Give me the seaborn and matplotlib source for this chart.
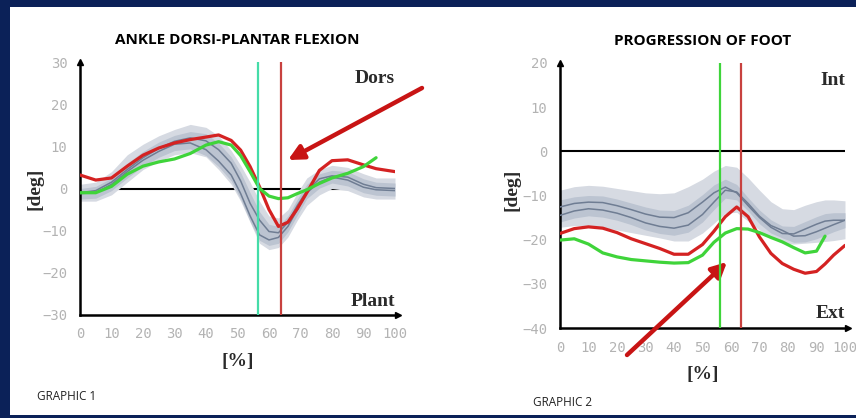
import numpy as np
import seaborn as sns
import matplotlib.pyplot as plt
from matplotlib.patches import Rectangle

# ---- data ----
# graphic 1: ankle dorsi-plantar flexion
ank_x = [0, 5, 10, 15, 20, 25, 30, 35, 40, 44, 48, 51, 54, 57, 60, 63, 66, 69, 72, 76, 80, 85, 90, 94, 100]
ank_red = [3.2, 2.0, 2.5, 5.3, 7.9, 9.6, 10.8, 11.6, 12.2, 12.7, 11.4, 9.1, 5.2, 0.4, -5.0, -9.0, -8.0, -4.8, -1.0, 4.3, 6.6, 6.8, 5.6, 4.7, 4.0]
ank_green = [-1.0, -1.0, 0.5, 3.4, 5.3, 6.3, 7.0, 8.3, 10.3, 11.1, 10.3, 7.8, 4.0, 0.0, -1.8, -2.4, -2.2, -1.2, -0.3, 1.2, 2.5, 3.6, 5.2, 7.3, np.nan]
ank_norm_a = [-1.0, -0.5, 1.5, 4.5, 7.3, 9.5, 11.2, 12.0, 11.3, 9.2, 6.0, 1.8, -3.5, -7.5, -10.2, -10.5, -8.0, -4.0, -0.6, 2.3, 3.0, 2.7, 1.0, 0.2, 0.0]
ank_norm_b = [-1.2, -1.0, 1.0, 4.0, 6.7, 8.8, 10.5, 10.8, 9.2, 6.5, 3.2, -1.2, -6.5, -11.0, -12.2, -11.6, -9.0, -5.0, -1.0, 1.5, 2.7, 2.0, 0.3, -0.3, -0.5]
ank_band_hi = [1.0, 1.5, 4.0, 8.0, 10.5, 12.5, 14.0, 15.2, 14.5, 12.5, 9.0, 5.5, 1.5, -3.0, -6.5, -7.0, -5.0, -1.0, 2.5, 4.5, 5.5, 5.0, 3.5, 2.5, 2.5]
ank_band_lo = [-3.0, -3.0, -1.5, 1.5, 4.5, 6.5, 8.0, 8.5, 7.5, 4.5, 1.0, -3.0, -8.0, -13.0, -14.5, -14.0, -11.5, -7.5, -4.0, -1.5, 0.0, -0.5, -2.0, -2.5, -2.5]
ank_inner_hi = [0.0, 0.5, 2.5, 6.0, 8.8, 11.0, 12.6, 13.5, 13.0, 10.8, 7.5, 3.8, -1.0, -5.5, -8.5, -9.0, -6.5, -2.5, 1.0, 3.5, 4.3, 4.0, 2.3, 1.5, 1.3]
ank_inner_lo = [-2.5, -2.3, -0.5, 2.5, 5.3, 7.4, 9.0, 9.4, 7.8, 5.2, 1.8, -2.5, -7.8, -12.3, -13.5, -13.0, -10.3, -6.3, -2.4, 0.1, 1.3, 0.6, -1.0, -1.6, -1.8]
ank_events = [56.5, 63.8]

# graphic 2: progression of foot
foot_x = [0, 5, 10, 15, 20, 25, 30, 35, 40, 45, 50, 54, 58, 62, 66, 70, 74, 78, 82, 86, 90, 93, 96, 100]
foot_red = [-18.6, -17.5, -17.1, -17.4, -18.4, -19.8, -20.9, -22.0, -23.3, -23.3, -21.1, -18.1, -14.8, -12.6, -14.8, -19.4, -23.1, -25.4, -26.7, -27.6, -27.2, -25.5, -23.5, -21.3]
foot_green = [-20.1, -19.8, -21.0, -23.0, -23.9, -24.5, -24.8, -25.1, -25.3, -25.2, -23.5, -20.6, -18.5, -17.5, -17.6, -18.4, -19.5, -20.5, -21.8, -23.0, -22.6, -19.2, np.nan, np.nan]
foot_norm_a = [-12.6, -11.8, -11.5, -11.6, -12.3, -13.2, -14.2, -14.9, -15.0, -13.9, -11.5, -9.4, -8.1, -9.4, -12.3, -15.0, -17.2, -18.6, -18.7, -17.6, -16.5, -15.8, -15.6, -15.6]
foot_norm_b = [-14.5, -13.5, -13.0, -13.3, -14.0, -15.0, -16.2, -17.0, -17.4, -16.7, -14.3, -11.5, -8.8, -9.2, -11.8, -14.7, -16.8, -17.9, -19.2, -19.1, -18.2, -17.4, -16.6, -15.6]
foot_band_hi = [-8.8, -8.0, -7.7, -7.9, -8.4, -8.9, -9.4, -9.6, -9.4, -8.0, -6.3, -4.5, -3.2, -3.6, -6.0, -8.8, -11.4, -13.0, -13.2, -12.2, -11.4, -11.0, -11.0, -11.2]
foot_band_lo = [-17.2, -16.8, -16.8, -17.2, -17.8, -18.4, -19.0, -19.6, -20.3, -20.3, -18.5, -16.3, -14.0, -13.8, -15.8, -17.8, -19.5, -20.8, -21.0, -20.8, -20.6, -20.4, -20.2, -19.8]
foot_inner_hi = [-11.0, -10.3, -10.0, -10.1, -10.8, -11.7, -12.6, -13.3, -13.4, -12.2, -9.8, -7.6, -6.3, -7.5, -10.5, -13.3, -15.5, -16.9, -17.0, -15.9, -14.8, -14.1, -13.9, -13.9]
foot_inner_lo = [-16.0, -15.1, -14.6, -14.9, -15.6, -16.6, -17.8, -18.6, -19.0, -18.3, -16.0, -13.2, -10.6, -11.0, -13.5, -16.4, -18.5, -19.6, -20.6, -20.5, -19.8, -19.0, -18.2, -17.3]
foot_events = [56.0, 63.4]

NAVY = '#0b2158'
RED = '#d42222'
GRAY_LINE = '#6f7d93'
BAND_OUT = '#d6dae2'
BAND_IN = '#bcc4d1'

sns.set_style('white')
plt.rcParams['font.family'] = ['DejaVu Sans']

fig = plt.figure(figsize=(8.56, 4.18), dpi=100, facecolor=NAVY)
fig.add_artist(Rectangle((10 / 856, 3 / 418), 846 / 856, 408 / 418,
                         transform=fig.transFigure, facecolor='white', edgecolor='none', zorder=0))

ax1 = fig.add_axes([80 / 856, 1 - 315 / 418, 315 / 856, 253 / 418])
ax2 = fig.add_axes([560 / 856, 1 - 328 / 418, 285 / 856, 265 / 418])


def draw(ax, x, red, green, na, nb, bhi, blo, ihi, ilo, events, green_ev, ylim, top, bottom, title):
    ax.set_facecolor('white')
    ax.axhline(0, color='black', lw=1.5, zorder=1)
    ax.fill_between(x, blo, bhi, color=BAND_OUT, lw=0, zorder=2)
    ax.fill_between(x, ilo, ihi, color=BAND_IN, lw=0, zorder=2)
    sns.lineplot(x=x, y=na, ax=ax, color=GRAY_LINE, lw=1.1, zorder=3)
    sns.lineplot(x=x, y=nb, ax=ax, color=GRAY_LINE, lw=1.1, zorder=3)
    sns.lineplot(x=x, y=red, ax=ax, color=RED, lw=2.3, zorder=4)
    sns.lineplot(x=x, y=green, ax=ax, color='#3fd43a', lw=2.3, zorder=4)
    ax.axvline(events[0], color=green_ev, lw=1.6, zorder=5)
    ax.axvline(events[1], color='#c8413f', lw=1.6, zorder=5)

    ax.set_xlim(0, 100)
    ax.set_ylim(*ylim)
    ax.set_xticks(range(0, 101, 10))
    ax.set_yticks(range(ylim[0], ylim[1] + 1, 10))
    for s in ['top', 'right']:
        ax.spines[s].set_visible(False)
    for s in ['left', 'bottom']:
        ax.spines[s].set_color('black')
        ax.spines[s].set_linewidth(1.8)
    ax.tick_params(axis='both', direction='inout', length=4, width=1.5, color='black',
                   labelcolor='#b3b3b3', labelsize=10, pad=7)
    for lab in ax.get_xticklabels() + ax.get_yticklabels():
        lab.set_family('DejaVu Sans Mono')
    ax.plot(1.01, 0, '>', color='black', ms=4, transform=ax.transAxes, clip_on=False)
    ax.plot(0, 1, '^', color='black', ms=4, transform=ax.transAxes, clip_on=False)

    ax.text(1.0, 0.935, top, transform=ax.transAxes, ha='right', va='center',
            fontsize=14, family='Liberation Serif', fontweight='bold', color='#2a2a2a')
    ax.text(1.0, 0.055, bottom, transform=ax.transAxes, ha='right', va='center',
            fontsize=14, family='Liberation Serif', fontweight='bold', color='#2a2a2a')
    ax.set_xlabel('[%]', fontsize=14, family='Liberation Serif', fontweight='bold', color='#2a2a2a')
    ax.set_ylabel('[deg]', fontsize=14, family='Liberation Serif', fontweight='bold', color='#2a2a2a')
    ax.set_title(title, fontsize=11, family='Open Sans', fontweight='bold', color='black', pad=13)


draw(ax1, ank_x, ank_red, ank_green, ank_norm_a, ank_norm_b, ank_band_hi, ank_band_lo,
     ank_inner_hi, ank_inner_lo, ank_events, '#45dca8', (-30, 30), 'Dors', 'Plant',
     'ANKLE DORSI-PLANTAR FLEXION')
draw(ax2, foot_x, foot_red, foot_green, foot_norm_a, foot_norm_b, foot_band_hi, foot_band_lo,
     foot_inner_hi, foot_inner_lo, foot_events, '#3fd43a', (-40, 20), 'Int', 'Ext',
     'PROGRESSION OF FOOT')

ax1.xaxis.set_label_coords(0.5, -0.15)
ax1.yaxis.set_label_coords(-0.115, 0.5)
ax2.xaxis.set_label_coords(0.5, -0.145)
ax2.yaxis.set_label_coords(-0.14, 0.52)

# red pointer arrows
arrow = dict(arrowstyle='-|>,head_length=0.9,head_width=0.45', color='#c81414', lw=3.2, shrinkA=0, shrinkB=0)
ax1.annotate('', xy=(288, 418 - 160), xytext=(422, 418 - 88),
             xycoords='figure pixels', textcoords='figure pixels', arrowprops=arrow, annotation_clip=False)
ax2.annotate('', xy=(727, 418 - 262), xytext=(627, 418 - 355),
             xycoords='figure pixels', textcoords='figure pixels', arrowprops=arrow, annotation_clip=False)

fig.text(37 / 856, 1 - 397 / 418, 'GRAPHIC 1', fontsize=8.5, family='Open Sans', color='#222222', va='center')
fig.text(533 / 856, 1 - 402 / 418, 'GRAPHIC 2', fontsize=8.5, family='Open Sans', color='#222222', va='center')

fig.savefig('out.png', dpi=100, facecolor=NAVY)
